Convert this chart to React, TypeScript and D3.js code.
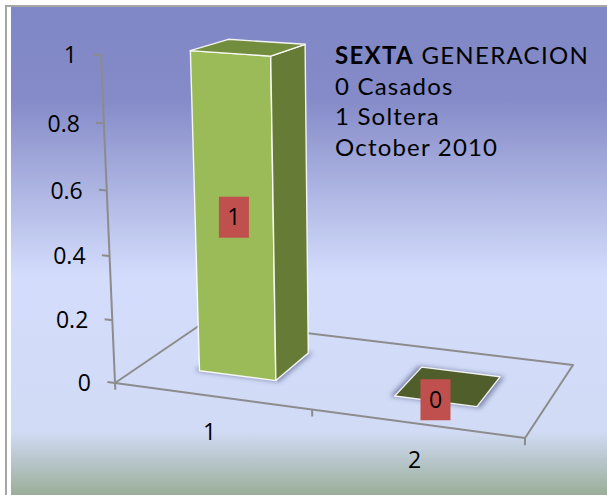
import React from "react";
import * as d3 from "d3";

// chart data
const categories = ["1", "2"];
const values = [1, 0];
const valueLabels = ["1", "0"];
const yTicks = [0, 0.2, 0.4, 0.6, 0.8, 1];
const yTickLabels = ["0", "0.2", "0.4", "0.6", "0.8", "1"];
const titleBold = "SEXTA";
const titleRest = " GENERACION";
const notes = ["0 Casados", "1 Soltera", "October 2010"];

const W = 607;
const H = 495;
const FONT = "'Open Sans', 'Noto Sans', sans-serif";
const NOTE_FONT = "Lato, 'Open Sans', sans-serif";

// 3D view: world x along categories (0..1), y = value (0..1), z = depth (0..1)
// rows of a 3x4 perspective matrix
const camX = [371.1, -19.3, 117.1, 115];
const camY = [22.5, -330.9, -21.3, 383];
const camW = [-0.0742, -0.0522, 0.1269, 1];

function project(x: number, y: number, z: number): [number, number] {
  const d = camW[0] * x + camW[1] * y + camW[2] * z + camW[3];
  return [
    (camX[0] * x + camX[1] * y + camX[2] * z + camX[3]) / d,
    (camY[0] * x + camY[1] * y + camY[2] * z + camY[3]) / d,
  ];
}

type P3 = [number, number, number];
const line = d3.line<[number, number]>();
const poly = (pts: P3[]) => line(pts.map((p) => project(p[0], p[1], p[2]))) + "Z";
// d3.polygonArea is negative for faces turned towards the viewer (screen y down)
const facing = (pts: P3[]) => -d3.polygonArea(pts.map((p) => project(p[0], p[1], p[2])));

const x = d3.scaleBand<string>().domain(categories).range([0, 1]).paddingInner(0.6).paddingOuter(0.3);
const y = d3.scaleLinear().domain([0, 1]).range([0, 1]);
const zFront = 0.29;
const zBack = 0.71;

const FRONT = "#9bbb59";
const SIDE = "#667b36";
const TOP = "#728d3e";
const FLAT = "#4f5e2a";
const AXIS = "#8c8c8c";

function Bar({ cat, value }: { cat: string; value: number }) {
  const x0 = x(cat)!;
  const x1 = x0 + x.bandwidth();
  const h = y(value);
  const z0 = zFront;
  const z1 = zBack;
  const faces: { pts: P3[]; fill: string }[] = [
    { pts: [[x0, 0, z0], [x0, h, z0], [x1, h, z0], [x1, 0, z0]], fill: FRONT },
    { pts: [[x0, 0, z1], [x1, 0, z1], [x1, h, z1], [x0, h, z1]], fill: SIDE },
    { pts: [[x0, 0, z0], [x0, 0, z1], [x0, h, z1], [x0, h, z0]], fill: SIDE },
    { pts: [[x1, 0, z0], [x1, h, z0], [x1, h, z1], [x1, 0, z1]], fill: SIDE },
    { pts: [[x0, h, z0], [x0, h, z1], [x1, h, z1], [x1, h, z0]], fill: h > 0 ? TOP : FLAT },
  ];
  const e = 0.01;
  const shadow: P3[] = [[x0 - e, 0, z0 - e], [x0 - e, 0, z1 + e], [x1 + e, 0, z1 + e], [x1 + e, 0, z0 - e]];
  return (
    <g>
      <path d={poly(shadow)} fill="#3b4170" opacity={0.55} filter="url(#blur)" />
      {faces
        .filter((f) => facing(f.pts) > 1)
        .map((f, i) => (
          <path key={i} d={poly(f.pts)} fill={f.fill} stroke="#ffffff" strokeWidth={1.4}
            strokeOpacity={0.9} strokeLinejoin="round" />
        ))}
    </g>
  );
}

export default function App() {
  const floor: P3[] = [[0, 0, 0], [1, 0, 0], [1, 0, 1], [0, 0, 1]];
  const catTicks = [0, 0.5, 1];
  return (
    <svg width={W} height={H} style={{ position: "absolute", left: 0, top: 0 }}
      fontFamily={FONT}>
      <defs>
        <linearGradient id="bg" x1="0" y1="0" x2="0" y2="1">
          <stop offset="0" stopColor="#8087c6" />
          <stop offset="0.19" stopColor="#858bc8" />
          <stop offset="0.55" stopColor="#d3dcfb" />
          <stop offset="0.87" stopColor="#d1dbf5" />
          <stop offset="1" stopColor="#9aae99" />
        </linearGradient>
        <filter id="blur" x="-30%" y="-30%" width="160%" height="160%">
          <feGaussianBlur stdDeviation="2.5" />
        </filter>
      </defs>
      <rect width={W} height={H} fill="#ffffff" />
      <rect x={6} y={6} width={W + 20} height={H + 20} fill="none" stroke="#a6a6a6" strokeWidth={2} />
      <rect x={11} y={7} width={W - 11} height={H - 7} fill="url(#bg)" />

      {/* floor */}
      <path d={poly(floor)} fill="none" stroke={AXIS} strokeWidth={2} strokeLinejoin="round" />
      {catTicks.map((t) => (
        <path key={t} d={line([project(t, 0, 0), project(t, -0.022, 0)])!} stroke={AXIS} strokeWidth={2} />
      ))}

      {/* value axis */}
      <path d={line([project(0, 0, 0), project(0, y(1), 0)])!} stroke={AXIS} strokeWidth={2} />
      {yTicks.map((t, i) => {
        const p = project(0, y(t), 0);
        const q = project(-0.02, y(t), 0);
        return (
          <g key={t}>
            <path d={line([p, q])!} stroke={AXIS} strokeWidth={2} />
            <text x={p[0] - 24} y={p[1]} dy="0.36em" textAnchor="end" fontSize={23} fill="#000">
              {yTickLabels[i]}
            </text>
          </g>
        );
      })}

      {/* category labels */}
      {categories.map((c) => {
        const p = project(x(c)! + x.bandwidth() / 2, 0, 0);
        return (
          <text key={c} x={p[0] - 2} y={p[1] + 36} dy="0.36em" textAnchor="middle" fontSize={23} fill="#000">
            {c}
          </text>
        );
      })}

      {/* bars */}
      {categories.map((c, i) => (
        <Bar key={c} cat={c} value={values[i]} />
      ))}

      {/* data labels */}
      {categories.map((c, i) => {
        const p = project(x(c)! + x.bandwidth() / 2, y(values[i]) / 2, zFront);
        return (
          <g key={c}>
            <rect x={p[0] - 15} y={p[1] - 22} width={30} height={41} fill="#c0504d" />
            <text x={p[0]} y={p[1] - 1.5} dy="0.36em" textAnchor="middle" fontSize={23} fill="#000">
              {valueLabels[i]}
            </text>
          </g>
        );
      })}

      {/* title block */}
      <g fontFamily={NOTE_FONT} fontSize={24} fill="#000">
        <text x={335} y={64} letterSpacing={1.3}>
          <tspan fontWeight="bold">{titleBold}</tspan>
          <tspan>{titleRest}</tspan>
        </text>
        {notes.map((n, i) => (
          <text key={n} x={335} y={95 + i * 30.3} letterSpacing={1.2}>
            {n}
          </text>
        ))}
      </g>
    </svg>
  );
}
